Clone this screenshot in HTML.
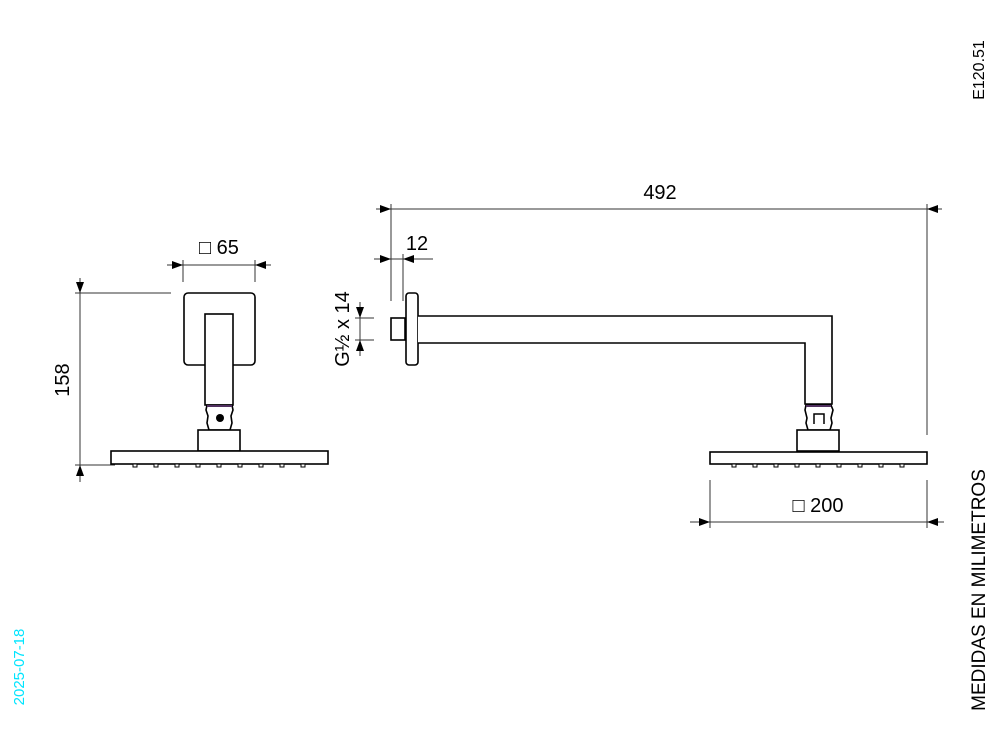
<!DOCTYPE html>
<html><head><meta charset="utf-8"><style>
html,body{margin:0;padding:0;background:#fff;}
svg{display:block;font-family:"Liberation Sans",Arial,sans-serif;}
</style></head><body>
<svg width="1000" height="750" viewBox="0 0 1000 750" xmlns="http://www.w3.org/2000/svg">
<defs>
<path id="ar" d="M0,0 L-11,-4 L-11,4 Z" fill="#000"/>
</defs>
<g stroke="#333" stroke-width="1" fill="none">
<line x1="167" y1="265" x2="271" y2="265"/>
<line x1="183" y1="260" x2="183" y2="282"/>
<line x1="255" y1="260" x2="255" y2="282"/>
<line x1="80" y1="278" x2="80" y2="482"/>
<line x1="75" y1="293" x2="171" y2="293"/>
<line x1="75" y1="465" x2="115" y2="465"/>
<line x1="376" y1="209" x2="942" y2="209"/>
<line x1="391" y1="204" x2="391" y2="301"/>
<line x1="927" y1="204" x2="927" y2="435"/>
<line x1="374" y1="259" x2="433" y2="259"/>
<line x1="403" y1="254" x2="403" y2="301"/>
<line x1="360" y1="302" x2="360" y2="356"/>
<line x1="355" y1="318" x2="374" y2="318"/>
<line x1="355" y1="340" x2="374" y2="340"/>
<line x1="690" y1="522" x2="944" y2="522"/>
<line x1="710" y1="480" x2="710" y2="528"/>
<line x1="927" y1="480" x2="927" y2="528"/>
</g>
<use href="#ar" transform="translate(183,265)"/>
<use href="#ar" transform="translate(255,265) rotate(180)"/>
<use href="#ar" transform="translate(80,293) rotate(90)"/>
<use href="#ar" transform="translate(80,465) rotate(-90)"/>
<use href="#ar" transform="translate(391,209)"/>
<use href="#ar" transform="translate(927,209) rotate(180)"/>
<use href="#ar" transform="translate(391,259)"/>
<use href="#ar" transform="translate(403,259) rotate(180)"/>
<use href="#ar" transform="translate(360,318) rotate(90)"/>
<use href="#ar" transform="translate(360,340) rotate(-90)"/>
<use href="#ar" transform="translate(710,522)"/>
<use href="#ar" transform="translate(927,522) rotate(180)"/>

<g stroke="#000" stroke-width="1.6" fill="#fff">
<rect x="184" y="293" width="71" height="72" rx="4"/>
<rect x="205" y="314" width="28" height="91"/>
<path d="M207,405 L232,405 L233,410 L231,416 L232,423 L230,430 L209,430 L207,423 L208,416 L206,410 Z"/>
<rect x="198" y="430" width="42" height="21"/>
<rect x="111" y="451" width="217" height="13"/>
<rect x="406" y="293" width="12" height="72" rx="3"/>
<rect x="391" y="318" width="14" height="22"/>
<path d="M418,316 L832,316 L832,404 L805,404 L805,343 L418,343"/>
<path d="M806,405 L831,405 L833,410 L831,418 L832,423 L830,430 L808,430 L806,423 L807,418 L805,410 Z"/>
<rect x="797" y="430" width="42" height="21"/>
<rect x="710" y="452" width="217" height="12"/>
</g>
<line x1="207" y1="406" x2="232" y2="406" stroke="#503060" stroke-width="2"/>
<line x1="806" y1="406" x2="831" y2="406" stroke="#503060" stroke-width="2"/>
<circle cx="220" cy="418" r="4" fill="#000"/>
<path d="M814,424 L814,414 L824,414 L824,424" stroke="#000" stroke-width="1.5" fill="none"/>
<g fill="#fff" stroke="#000" stroke-width="1">
<rect x="133" y="464" width="4" height="3"/><rect x="154" y="464" width="4" height="3"/><rect x="175" y="464" width="4" height="3"/><rect x="196" y="464" width="4" height="3"/><rect x="217" y="464" width="4" height="3"/><rect x="238" y="464" width="4" height="3"/><rect x="259" y="464" width="4" height="3"/><rect x="280" y="464" width="4" height="3"/><rect x="301" y="464" width="4" height="3"/>
<rect x="732" y="464" width="4" height="3"/><rect x="753" y="464" width="4" height="3"/><rect x="774" y="464" width="4" height="3"/><rect x="795" y="464" width="4" height="3"/><rect x="816" y="464" width="4" height="3"/><rect x="837" y="464" width="4" height="3"/><rect x="858" y="464" width="4" height="3"/><rect x="879" y="464" width="4" height="3"/><rect x="900" y="464" width="4" height="3"/>
</g>
<g font-size="20" fill="#000">
<text x="219" y="254" text-anchor="middle">□ 65</text>
<text x="660" y="199" text-anchor="middle">492</text>
<text x="417" y="250" text-anchor="middle">12</text>
<text x="818" y="512" text-anchor="middle">□ 200</text>
<text transform="translate(69,380) rotate(-90)" text-anchor="middle">158</text>
<text transform="translate(349,329) rotate(-90)" text-anchor="middle">G½ x 14</text>
</g>
<text transform="translate(984,70) rotate(-90)" text-anchor="middle" font-size="16">E120.51</text>
<text transform="translate(985,590) rotate(-90)" text-anchor="middle" font-size="19">MEDIDAS EN MILIMETROS</text>
<text transform="translate(24,667) rotate(-90)" text-anchor="middle" font-size="15" fill="#00e5ff">2025-07-18</text>
</svg>
</body></html>
